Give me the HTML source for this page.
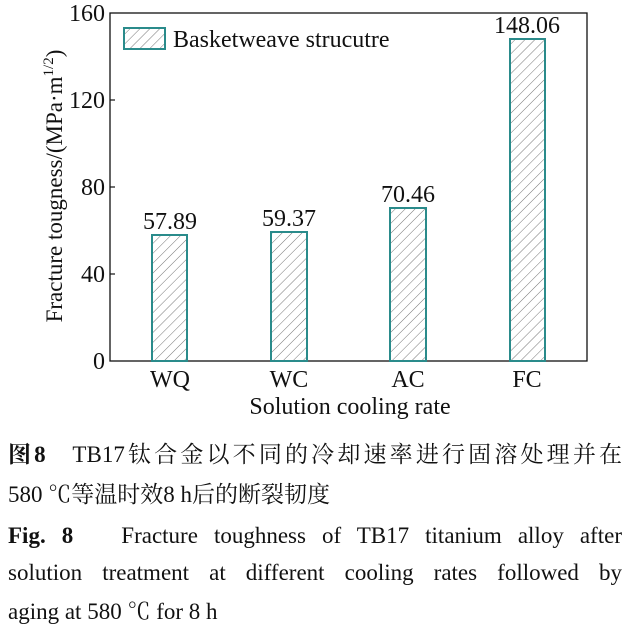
<!DOCTYPE html>
<html><head><meta charset="utf-8"><style>
body{margin:0;width:628px;height:633px;background:#fff;overflow:hidden;position:relative;font-family:"Liberation Serif","Noto Serif CJK SC",serif;}
.cap{position:absolute;left:8px;width:614px;font-size:23px;line-height:23px;color:#111;white-space:nowrap;}
.j{text-align:justify;text-align-last:justify;}
</style></head><body>
<svg width="628" height="430" style="position:absolute;left:0;top:0" font-family="Liberation Serif, serif">
<defs><pattern id="h" patternUnits="userSpaceOnUse" width="7" height="7" patternTransform="rotate(45)"><rect width="7" height="7" fill="#fff"/><line x1="0" y1="0" x2="0" y2="7" stroke="#777" stroke-width="1"/></pattern></defs>
<rect x="110" y="13" width="477" height="348" fill="none" stroke="#111" stroke-width="1.3"/>
<g stroke="#111" stroke-width="1.2">
<line x1="110" y1="100" x2="115" y2="100"/><line x1="110" y1="187" x2="115" y2="187"/><line x1="110" y1="274" x2="115" y2="274"/>
<line x1="170" y1="361" x2="170" y2="356"/><line x1="289" y1="361" x2="289" y2="356"/><line x1="408" y1="361" x2="408" y2="356"/><line x1="527" y1="361" x2="527" y2="356"/>
</g>
<g fill="url(#h)" stroke="#2a8b8b" stroke-width="2">
<rect x="152" y="235" width="35" height="126"/>
<rect x="271" y="232" width="36" height="129"/>
<rect x="390" y="208" width="36" height="153"/>
<rect x="510" y="39" width="35" height="322"/>
<rect x="124" y="28" width="41" height="21"/>
</g>
<g font-size="24" fill="#111" text-anchor="middle">
<text x="170" y="229">57.89</text><text x="289" y="226">59.37</text><text x="408" y="202">70.46</text><text x="527" y="33">148.06</text>
</g>
<text x="173" y="47" font-size="24" fill="#111">Basketweave strucutre</text>
<g font-size="24" fill="#111" text-anchor="end">
<text x="105" y="21">160</text><text x="105" y="108">120</text><text x="105" y="195">80</text><text x="105" y="282">40</text><text x="105" y="369">0</text>
</g>
<g font-size="24" fill="#111" text-anchor="middle">
<text x="170" y="387">WQ</text><text x="289" y="387">WC</text><text x="408" y="387">AC</text><text x="527" y="387">FC</text>
<text x="350" y="414">Solution cooling rate</text>
</g>
<text transform="translate(62,186) rotate(-90)" font-size="23" fill="#111" text-anchor="middle">Fracture tougness/(MPa·m<tspan font-size="15" dy="-9">1/2</tspan><tspan dy="9">)</tspan></text>
</svg>
<div class="cap j" style="top:443px"><b>图8</b>&nbsp;&nbsp; TB17钛合金以不同的冷却速率进行固溶处理并在</div>
<div class="cap" style="top:483px">580 ℃等温时效8 h后的断裂韧度</div>
<div class="cap j" style="top:524px"><b>Fig. 8</b>&nbsp;&nbsp; Fracture toughness of TB17 titanium alloy after</div>
<div class="cap j" style="top:561px">solution treatment at different cooling rates followed by</div>
<div class="cap" style="top:600px">aging at 580 ℃ for 8 h</div>
</body></html>
